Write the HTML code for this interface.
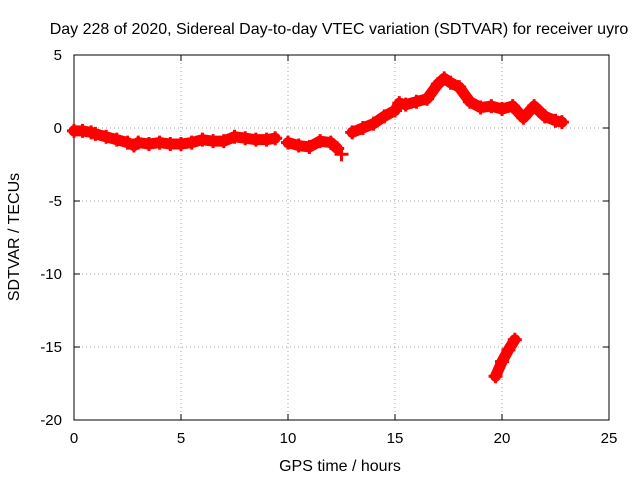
<!DOCTYPE html>
<html><head><meta charset="utf-8"><style>
body{margin:0;background:#fff;}
svg text{font-family:"Liberation Sans",sans-serif;font-size:16px;fill:#000;}
svg text.tick{font-size:15px;}
</style></head><body>
<svg id="chart" width="640" height="480" viewBox="0 0 640 480">
<rect width="640" height="480" fill="#fff"/>
<text x="339" y="34" text-anchor="middle">Day 228 of 2020, Sidereal Day-to-day VTEC variation (SDTVAR) for receiver uyro</text>
<g id="grid"></g>
<g id="axes"></g>
<g id="series"></g>
<text x="340" y="471" text-anchor="middle">GPS time / hours</text>
<text transform="translate(19,237) rotate(-90)" text-anchor="middle">SDTVAR / TECUs</text>
</svg>
<script>
const xTicks=[0,5,10,15,20,25];
const yTicks=[5,0,-5,-10,-15,-20];
const seg1Time=[0,0.4,0.8,1,1.5,2,2.5,2.8,3,3.5,4,4.5,5,5.5,6,6.5,7,7.5,8,8.5,9,9.4];
const seg1Val=[-0.2,-0.2,-0.3,-0.4,-0.6,-0.8,-1.0,-1.2,-1.0,-1.1,-1.0,-1.1,-1.1,-1.0,-0.8,-0.9,-0.9,-0.6,-0.7,-0.8,-0.8,-0.7];
const seg2Time=[10,10.5,11,11.5,12,12.3];
const seg2Val=[-1.0,-1.2,-1.3,-0.9,-1.0,-1.4];
const seg3Time=[12.5];
const seg3Val=[-1.8];
const seg4Time=[13,13.5,14,14.5,15,15.2,15.5,16,16.5,17,17.3,17.6,18,18.5,19,19.5,20,20.5,21,21.5,22,22.5,22.8];
const seg4Val=[-0.3,0.0,0.3,0.8,1.2,1.7,1.6,1.8,2.0,3.0,3.4,3.1,2.8,1.8,1.4,1.5,1.3,1.5,0.7,1.5,0.8,0.5,0.4];
const seg5Time=[19.7,20.0,20.3,20.6];
const seg5Val=[-17,-16,-15.2,-14.5];
const X0=74,X1=609,Y0=420,Y1=55;
const xs=t=>X0+(t-0)/(25-0)*(X1-X0);
const ys=v=>Y0-(v+20)/25*(Y0-Y1);
const NS='http://www.w3.org/2000/svg';
function mk(tag,at,parent){const e=document.createElementNS(NS,tag);for(const k in at)e.setAttribute(k,at[k]);parent.appendChild(e);return e;}
const grid=document.getElementById('grid'),axes=document.getElementById('axes'),ser=document.getElementById('series');
xTicks.forEach(t=>{const x=xs(t);
 if(t>0&&t<25){const l=mk('line',{x1:x,x2:x,y1:Y1,y2:Y0,stroke:'#a0a0a0','stroke-dasharray':'1,3'},grid);
 
 }
 mk('line',{x1:x,x2:x,y1:Y0,y2:Y0-6,stroke:'#000'},axes);mk('line',{x1:x,x2:x,y1:Y1,y2:Y1+6,stroke:'#000'},axes);
 const tx=mk('text',{x:x,y:Y0+23,'text-anchor':'middle','class':'tick'},axes);tx.textContent=t;
 
 });
yTicks.forEach(v=>{const y=ys(v);
 if(v>-20&&v<5){const l=mk('line',{x1:X0,x2:X1,y1:y,y2:y,stroke:'#a0a0a0','stroke-dasharray':'1,3'},grid);
 
 }
 mk('line',{x1:X0,x2:X0+6,y1:y,y2:y,stroke:'#000'},axes);mk('line',{x1:X1,x2:X1-6,y1:y,y2:y,stroke:'#000'},axes);
 const tx=mk('text',{x:X0-12,y:y+5,'text-anchor':'end','class':'tick'},axes);tx.textContent=v;
 
 });
mk('rect',{x:X0,y:Y1,width:X1-X0,height:Y0-Y1,fill:'none',stroke:'#000'},axes);
[[seg1Time,seg1Val],[seg2Time,seg2Val],[seg3Time,seg3Val],[seg4Time,seg4Val],[seg5Time,seg5Val]].forEach(([T,V],si)=>{
 const pts=T.map((t,i)=>xs(t)+','+ys(V[i])).join(' ');
 if(T.length>1){const p=mk('polyline',{points:pts,fill:'none',stroke:'#f00','stroke-width':11,'stroke-linejoin':'round','stroke-linecap':'round'},ser);
 
 }
 T.forEach((t,i)=>{const x=xs(t),y=ys(V[i]);
  const m=mk('path',{d:`M${x-7},${y}H${x+7}M${x},${y-7}V${y+7}`,stroke:'#f00','stroke-width':3},ser);
  
  });
});
</script>
</body></html>
